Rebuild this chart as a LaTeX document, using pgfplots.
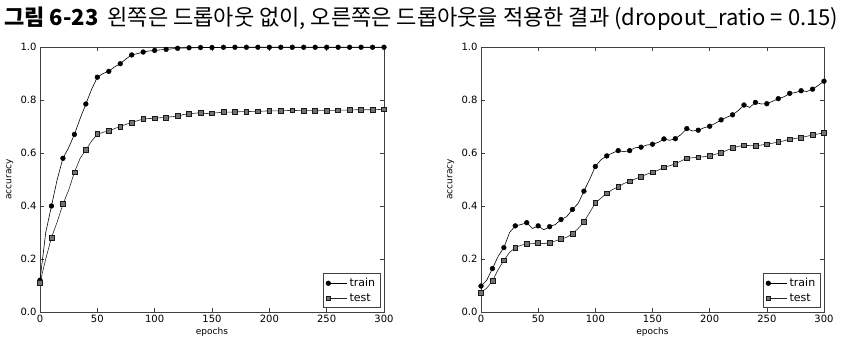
\documentclass[border=0pt]{standalone}
\usepackage{pgfplots}
\pgfplotsset{compat=1.18}
\usepackage{fontspec}
\setmainfont{DejaVu Sans}
\newfontfamily\cjk{Noto Sans CJK KR}
\pgfplotstableread{
x y
0 0.12
5 0.30
10 0.40
15 0.50
20 0.58
25 0.62
30 0.67
35 0.73
40 0.785
45 0.84
50 0.886
55 0.90
60 0.908
65 0.925
70 0.937
75 0.955
80 0.970
85 0.975
90 0.981
95 0.985
100 0.987
105 0.989
110 0.991
115 0.993
120 0.995
125 0.996
130 0.997
135 0.997
140 0.998
145 0.998
150 0.998
155 0.998
160 0.999
165 0.998
170 0.999
175 0.999
180 0.999
185 0.999
190 0.999
195 0.999
200 0.999
205 0.999
210 0.999
215 0.999
220 0.999
225 0.999
230 0.999
235 0.999
240 0.999
245 0.999
250 0.999
255 0.999
260 0.999
265 0.999
270 0.999
275 0.999
280 0.999
285 0.999
290 0.999
295 0.999
300 0.999
}\lefttrain
\pgfplotstableread{
x y
0 0.11
5 0.20
10 0.281
15 0.34
20 0.407
25 0.46
30 0.527
35 0.58
40 0.612
45 0.645
50 0.671
55 0.678
60 0.683
65 0.692
70 0.700
75 0.708
80 0.715
85 0.722
90 0.728
95 0.730
100 0.731
105 0.733
110 0.734
115 0.737
120 0.739
125 0.745
130 0.748
135 0.750
140 0.752
145 0.749
150 0.750
155 0.752
160 0.754
165 0.754
170 0.755
175 0.756
180 0.756
185 0.757
190 0.757
195 0.758
200 0.759
205 0.759
210 0.759
215 0.760
220 0.761
225 0.760
230 0.760
235 0.760
240 0.759
245 0.760
250 0.760
255 0.761
260 0.761
265 0.762
270 0.762
275 0.763
280 0.764
285 0.763
290 0.763
295 0.764
300 0.765
}\lefttest
\pgfplotstableread{
x y
0 0.098
5 0.12
10 0.164
15 0.21
20 0.243
25 0.30
30 0.325
35 0.33
40 0.337
45 0.315
50 0.325
55 0.31
60 0.322
65 0.33
70 0.349
75 0.36
80 0.387
85 0.41
90 0.456
95 0.50
100 0.549
105 0.575
110 0.589
115 0.60
120 0.609
125 0.605
130 0.609
135 0.62
140 0.622
145 0.630
150 0.633
155 0.640
160 0.653
165 0.648
170 0.654
175 0.670
180 0.692
185 0.683
190 0.686
195 0.695
200 0.701
205 0.712
210 0.725
215 0.735
220 0.744
225 0.760
230 0.781
235 0.772
240 0.791
245 0.785
250 0.786
255 0.795
260 0.805
265 0.812
270 0.825
275 0.828
280 0.835
285 0.832
290 0.841
295 0.855
300 0.871
}\righttrain
\pgfplotstableread{
x y
0 0.073
5 0.09
10 0.117
15 0.16
20 0.195
25 0.225
30 0.243
35 0.252
40 0.256
45 0.258
50 0.260
55 0.258
60 0.261
65 0.268
70 0.275
75 0.282
80 0.296
85 0.315
90 0.340
95 0.375
100 0.411
105 0.430
110 0.448
115 0.462
120 0.472
125 0.485
130 0.493
135 0.502
140 0.511
145 0.520
150 0.527
155 0.535
160 0.546
165 0.552
170 0.559
175 0.570
180 0.580
185 0.582
190 0.584
195 0.586
200 0.589
205 0.595
210 0.601
215 0.610
220 0.619
225 0.625
230 0.629
235 0.628
240 0.627
245 0.630
250 0.633
255 0.637
260 0.641
265 0.646
270 0.652
275 0.655
280 0.658
285 0.663
290 0.668
295 0.672
300 0.676
}\righttest
\pgfplotsset{
  accstyle/.style={
    scale only axis,
    width=344pt, height=265pt,
    xmin=0, xmax=300, ymin=0, ymax=1,
    xtick={0,50,...,300},
    ytick={0,0.2,...,1.0},
    yticklabel style={/pgf/number format/.cd, fixed, fixed zerofill, precision=1},
    /pgf/number format/assume math mode=true,
    tick label style={font=\fontsize{10}{12}\selectfont},
    tick align=inside,
    major tick length=4pt,
    axis line style={black!75, line width=0.7pt},
    every tick/.style={black!75},
    xlabel={epochs}, ylabel={accuracy},
    label style={font=\fontsize{9}{11}\selectfont},
    xlabel style={at={(axis description cs:0.5,-0.075)}, anchor=center},
    ylabel style={at={(axis description cs:-0.088,0.5)}, anchor=center},
    legend style={at={(0.99,0.016)}, anchor=south east, draw=black!75, line width=0.7pt,
      font=\fontsize{11}{13}\selectfont, inner xsep=3pt, inner ysep=2.5pt, row sep=1.5pt,
      cells={anchor=west}},
    legend image code/.code={\draw[##1] plot coordinates {(0pt,0pt) (19pt,0pt)};},
  },
  trainline/.style={black, line width=0.6pt, mark=*, mark repeat=2, mark phase=1,
    mark size=2.4pt, mark options={fill=black, line width=0.4pt}},
  testline/.style={black!85, line width=0.6pt, mark=square*, mark repeat=2, mark phase=1,
    mark size=2.4pt, mark options={fill=black!55, draw=black!90, line width=0.6pt}},
}
\begin{document}
\begin{tikzpicture}
\path[use as bounding box] (0pt,0pt) rectangle (849pt,355pt);
\node[anchor=west, inner sep=0pt] at (4pt,336pt) {\resizebox{834pt}{!}{\cjk\fontsize{22}{26}\selectfont\textbf{그림 6-23}\hspace{9pt}왼쪽은 드롭아웃 없이, 오른쪽은 드롭아웃을 적용한 결과 (dropout\_ratio = 0.15)}};
\begin{axis}[accstyle, at={(40pt,43pt)}, anchor=south west]
\addplot[trainline] table {\lefttrain};
\addlegendentry{train}
\addplot[testline] table {\lefttest};
\addlegendentry{test}
\end{axis}
\begin{axis}[accstyle, at={(481pt,43pt)}, anchor=south west, width=343pt]
\addplot[trainline] table {\righttrain};
\addlegendentry{train}
\addplot[testline] table {\righttest};
\addlegendentry{test}
\end{axis}
\end{tikzpicture}
\end{document}
